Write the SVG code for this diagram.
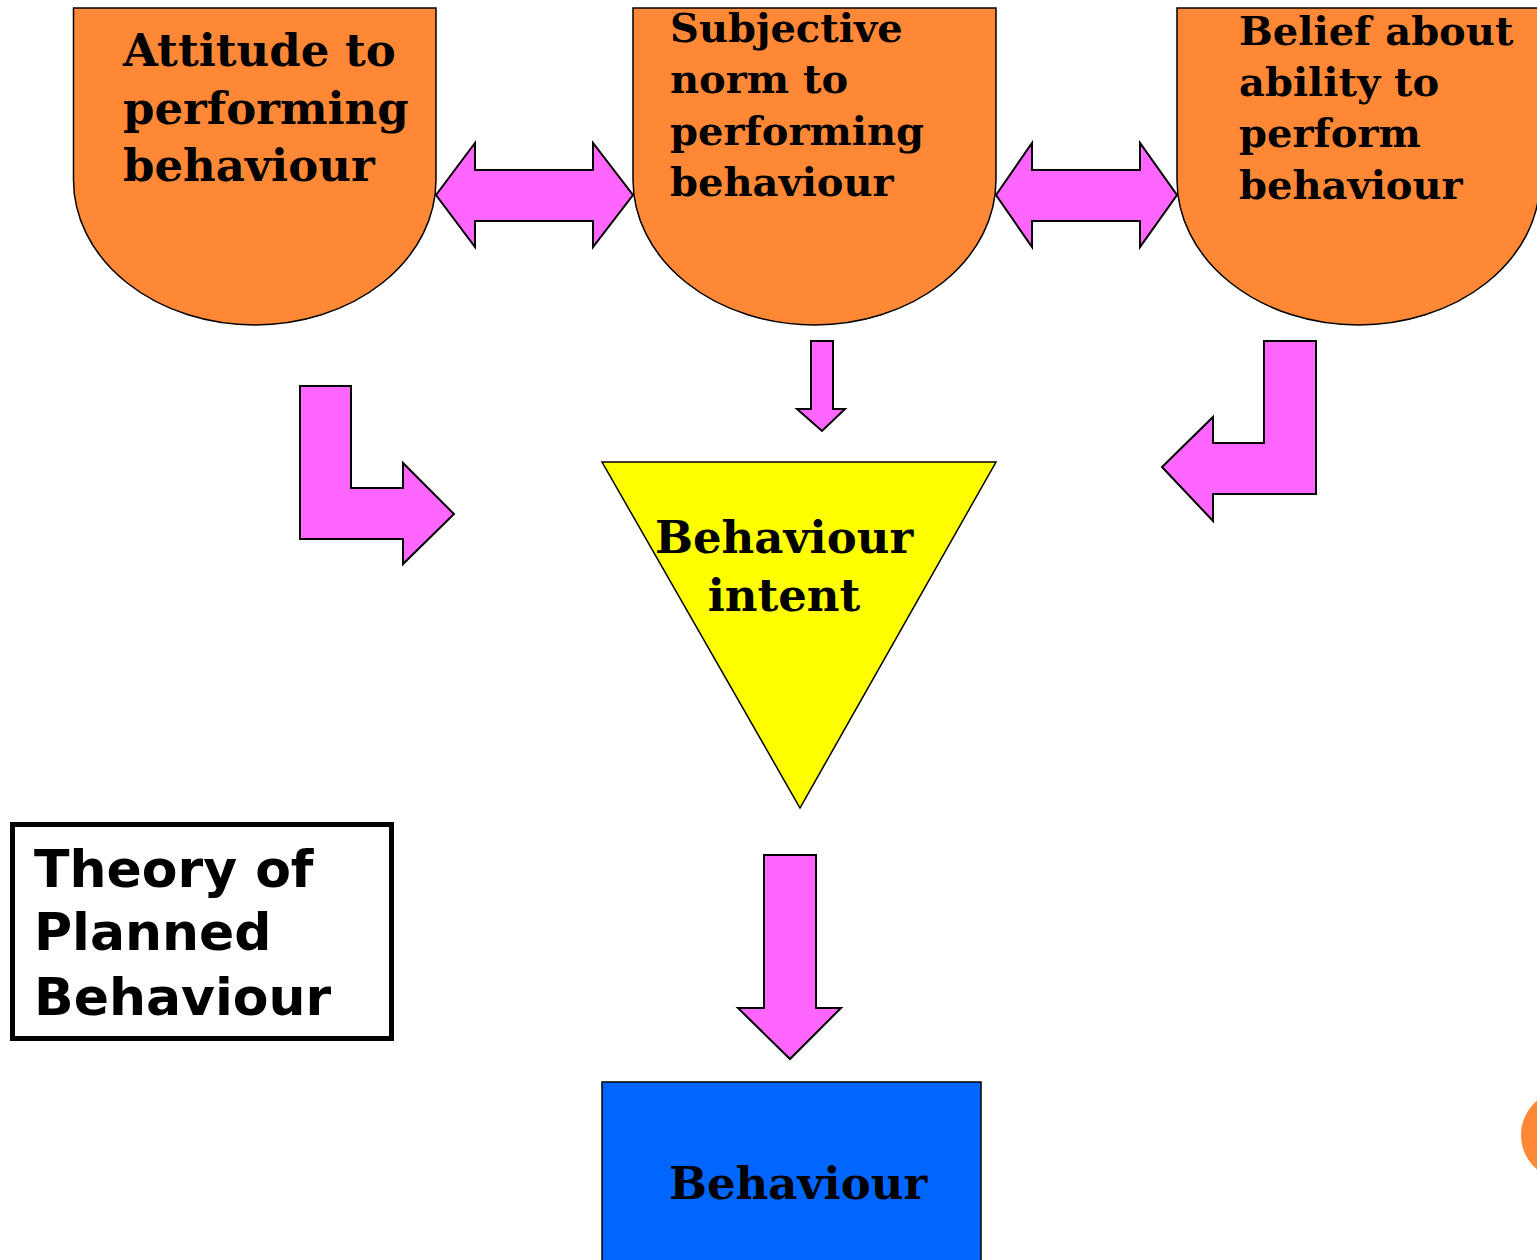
<svg xmlns="http://www.w3.org/2000/svg" width="1537" height="1260" viewBox="0 0 1537 1260">
<style>
.node{fill:#FF8837;stroke:#000;stroke-width:1.5}
.arr{fill:#FF66FF;stroke:#000;stroke-width:2;stroke-linejoin:miter}
.t{font-family:"DejaVu Serif","Liberation Serif",serif;font-weight:bold;fill:#000}
.title{font-family:"DejaVu Sans","Verdana",sans-serif;font-weight:bold;fill:#000;font-size:52px}
</style>
<rect width="1537" height="1260" fill="#fff"/>
<g id="attitude">
<path class="node" d="M73.5,8 H436 V180 A181.25,145 0 0 1 73.5,180 Z"/>
<text class="t" font-size="45"><tspan x="123" y="66">Attitude to</tspan><tspan x="123" y="124">performing</tspan><tspan x="123" y="181">behaviour</tspan></text>
</g>
<g id="subjective">
<path class="node" d="M633,8 H996 V180 A181.5,145 0 0 1 633,180 Z"/>
<text class="t" font-size="40"><tspan x="670" y="42">Subjective</tspan><tspan x="670" y="93">norm to</tspan><tspan x="670" y="145">performing</tspan><tspan x="670" y="196">behaviour</tspan></text>
</g>
<g id="belief">
<path class="node" d="M1177,8 H1540 V180 A181.5,145 0 0 1 1177,180 Z"/>
<text class="t" font-size="40"><tspan x="1239" y="45">Belief about</tspan><tspan x="1239" y="96">ability to</tspan><tspan x="1239" y="147">perform</tspan><tspan x="1239" y="199">behaviour</tspan></text>
</g>
<g id="intent">
<path d="M602,462 H996 L800,808 Z" fill="#FFFF00" stroke="#000" stroke-width="1.5"/>
<text class="t" font-size="45"><tspan x="784" y="553" text-anchor="middle">Behaviour</tspan><tspan x="784" y="611" text-anchor="middle">intent</tspan></text>
</g>
<g id="behaviour">
<rect x="602" y="1082" width="379" height="190" fill="#0066FF" stroke="#000" stroke-width="1.5"/>
<text class="t" font-size="45" x="798" y="1199" text-anchor="middle">Behaviour</text>
</g>
<g id="title">
<rect x="12.5" y="824.5" width="379" height="214" fill="#fff" stroke="#000" stroke-width="5"/>
<text class="title"><tspan x="34" y="887">Theory of</tspan><tspan x="34" y="950">Planned</tspan><tspan x="34" y="1015">Behaviour</tspan></text>
</g>
<g id="corner">
<circle cx="1566" cy="1135" r="45" fill="#FF8837"/>
</g>
<g id="connectors">
<path class="arr" d="M436,195 L475,143 V170 H593 V143 L633,195 L593,247 V221 H475 V247 Z"/>
<path class="arr" d="M996,195 L1032,143 V170 H1140 V143 L1177,195 L1140,247 V221 H1032 V247 Z"/>
<path class="arr" d="M300,386 H351 V488 H403 V463 L454,514 L403,564 V539 H300 Z"/>
<path class="arr" d="M1316,341 H1264 V443 H1213 V417 L1162,467 L1213,521 V494 H1316 Z"/>
<path class="arr" d="M811,341 H833 V409 H845 L822,431 L797,409 H811 Z"/>
<path class="arr" d="M764,855 H816 V1008 H841 L790,1059 L738,1008 H764 Z"/>
</g>
</svg>
